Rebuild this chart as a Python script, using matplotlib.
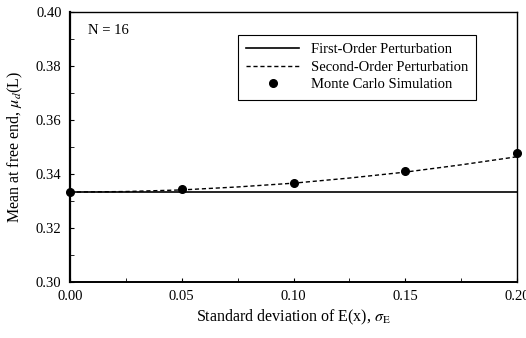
import matplotlib
matplotlib.use("Agg")
import matplotlib.pyplot as plt
from matplotlib.ticker import MultipleLocator

plt.rcParams['font.family'] = ['Liberation Serif', 'DejaVu Serif']
plt.rcParams['mathtext.fontset'] = 'stix'

# values
sigma_first = [0.0, 0.20]
mean_first = [0.3333, 0.3333]

sigma_second = [0.0, 0.025, 0.05, 0.075, 0.10, 0.125, 0.15, 0.175, 0.20]
mean_second = [0.3333, 0.3335, 0.3341, 0.3352, 0.3366, 0.3385, 0.3407, 0.3434, 0.3464]

sigma_mc = [0.0, 0.05, 0.10, 0.15, 0.20]
mean_mc = [0.3333, 0.3343, 0.3368, 0.3411, 0.3479]

fig = plt.figure(figsize=(5.26, 3.38), dpi=100)
ax = fig.add_axes([0.133, 0.166, 0.850, 0.798])

ax.plot(sigma_first, mean_first, 'k-', lw=1.2, label='First-Order Perturbation')
ax.plot(sigma_second, mean_second, 'k--', lw=1.0, dashes=(3, 2), label='Second-Order Perturbation')
ax.plot(sigma_mc, mean_mc, 'ko', ms=5.5, label='Monte Carlo Simulation', clip_on=False)

ax.set_xlim(0, 0.20)
ax.set_ylim(0.30, 0.40)
ax.xaxis.set_major_locator(MultipleLocator(0.05))
ax.xaxis.set_minor_locator(MultipleLocator(0.025))
ax.yaxis.set_major_locator(MultipleLocator(0.02))
ax.yaxis.set_minor_locator(MultipleLocator(0.01))
ax.xaxis.set_major_formatter(plt.FormatStrFormatter('%.2f'))
ax.yaxis.set_major_formatter(plt.FormatStrFormatter('%.2f'))
ax.tick_params(which='both', direction='in', labelsize=10.5, pad=6)
ax.tick_params(which='major', length=3)
ax.tick_params(which='minor', length=3)

for s in ax.spines.values():
    s.set_linewidth(1.0)
ax.spines['left'].set_linewidth(1.6)
ax.spines['bottom'].set_linewidth(1.4)

ax.set_xlabel(r'Standard deviation of E(x), $\sigma_{\mathrm{E}}$', fontsize=11.5, labelpad=3)
ax.set_ylabel(r'Mean at free end, $\mu_d$(L)', fontsize=11.5, labelpad=8)

ax.text(0.04, 0.955, 'N = 16', transform=ax.transAxes, fontsize=10.5, va='top')

leg = ax.legend(loc='upper right', bbox_to_anchor=(0.908, 0.915), fontsize=10.5,
                frameon=True, fancybox=False, edgecolor='black', framealpha=1,
                handlelength=3.6, borderpad=0.55, labelspacing=0.3, handletextpad=0.8,
                borderaxespad=0)
leg.get_frame().set_linewidth(0.8)

fig.savefig('out.png', dpi=100)
